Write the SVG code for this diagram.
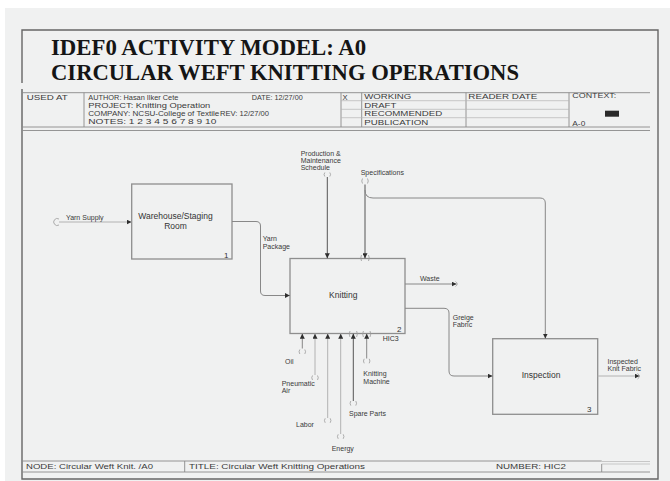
<svg xmlns="http://www.w3.org/2000/svg" width="670" height="481" viewBox="0 0 670 481">
  <defs>
    <style>
      .title { font-family: "Liberation Serif", "Times New Roman", serif; font-weight: bold; font-size: 22.8px; fill: #151515; }
      .hdr { font-family: "Liberation Sans", Arial, sans-serif; font-size: 7.6px; fill: #3a3a3a; }
      .lbl { font-family: "Liberation Sans", Arial, sans-serif; font-size: 7px; fill: #3a3a3a; }
      .box-txt { font-family: "Liberation Sans", Arial, sans-serif; font-size: 8.5px; fill: #333; text-anchor: middle; }
      .num { font-family: "Liberation Sans", Arial, sans-serif; font-size: 8px; fill: #333; }
      .rule { stroke: #8a8a8a; stroke-width: 0.9; fill: none; }
      .rule-lt { stroke: #b4b4b4; stroke-width: 0.7; fill: none; }
      .box { fill: none; stroke: #8e8e8e; stroke-width: 1.3; }
      .arr { fill: none; stroke-width: 1; }
      .dark { stroke: #555; }
      .mid { stroke: #888; }
      .light { stroke: #b2b2b2; }
      .tun { fill: none; stroke: #9a9a9a; stroke-width: 0.8; }
    </style>
    <marker id="head" viewBox="0 0 6 6" refX="6" refY="3" markerWidth="5" markerHeight="5" markerUnits="userSpaceOnUse" orient="auto">
      <path d="M0,0 L6,3 L0,6 Z" fill="#2e2e2e"/>
    </marker>
  </defs>

  <!-- page -->
  <rect x="0" y="0" width="670" height="481" fill="#ffffff"/>
  <rect x="5" y="8" width="665" height="473" fill="#f0f1f1"/>

  <!-- outer frame -->
  <path d="M22,83 V30 H658 V479 H22 V89" fill="none" stroke="#666" stroke-width="1.4"/>

  <!-- heading -->
  <g id="heading">
    <text class="title" x="51" y="55">IDEF0 ACTIVITY MODEL: A0</text>
    <text class="title" x="51" y="80" textLength="468" lengthAdjust="spacingAndGlyphs">CIRCULAR WEFT KNITTING OPERATIONS</text>
  </g>

  <!-- header block -->
  <g id="header">
    <path class="rule" d="M22,92.7 H650 M22,89 V127 M22,127 H650 M22,130.5 H650"/>
    <path class="rule" d="M84,92.7 V127 M341,92.7 V127 M361.7,92.7 V127 M466,92.7 V127 M569,92.7 V127"/>
    <path class="rule-lt" d="M341,100.7 H569 M341,109.3 H569 M341,117.7 H569"/>
    <text class="hdr" x="26.7" y="99.5" textLength="41" lengthAdjust="spacingAndGlyphs">USED AT</text>
    <text class="hdr" x="88.3" y="99.5" textLength="90" lengthAdjust="spacingAndGlyphs">AUTHOR: Hasan Ilker Cete</text>
    <text class="hdr" x="88.3" y="107.7" textLength="122" lengthAdjust="spacingAndGlyphs">PROJECT: Knitting Operation</text>
    <text class="hdr" x="88.3" y="116" textLength="131" lengthAdjust="spacingAndGlyphs">COMPANY: NCSU-College of Textile</text>
    <text class="hdr" x="88.3" y="124.3" textLength="128" lengthAdjust="spacingAndGlyphs">NOTES: 1 2 3 4 5 6 7 8 9 10</text>
    <text class="hdr" x="251.7" y="99.5" textLength="51" lengthAdjust="spacingAndGlyphs">DATE: 12/27/00</text>
    <text class="hdr" x="220" y="116" textLength="49" lengthAdjust="spacingAndGlyphs">REV: 12/27/00</text>
    <text class="hdr" x="342.5" y="99.5">X</text>
    <text class="hdr" x="364.3" y="99.2" textLength="47" lengthAdjust="spacingAndGlyphs">WORKING</text>
    <text class="hdr" x="364.3" y="107.5" textLength="32" lengthAdjust="spacingAndGlyphs">DRAFT</text>
    <text class="hdr" x="364.3" y="116" textLength="78" lengthAdjust="spacingAndGlyphs">RECOMMENDED</text>
    <text class="hdr" x="364.3" y="124.8" textLength="64" lengthAdjust="spacingAndGlyphs">PUBLICATION</text>
    <text class="hdr" x="468.3" y="99.2" textLength="69" lengthAdjust="spacingAndGlyphs">READER DATE</text>
    <text class="hdr" x="572.3" y="97.5" font-size="6" textLength="44" lengthAdjust="spacingAndGlyphs">CONTEXT:</text>
    <rect x="605" y="110.7" width="14" height="6" fill="#2a2a2a"/>
    <text class="hdr" x="572.3" y="125.7" font-size="6" textLength="13" lengthAdjust="spacingAndGlyphs">A-0</text>
  </g>

  <!-- activity boxes -->
  <g id="a1-warehouse">
    <rect class="box" x="131.7" y="184" width="100.3" height="75"/>
    <text class="box-txt" x="175.5" y="219">Warehouse/Staging</text>
    <text class="box-txt" x="175.5" y="228.5">Room</text>
    <text class="num" x="224" y="257.5">1</text>
  </g>
  <g id="a2-knitting">
    <rect class="box" x="290" y="258.5" width="115" height="75"/>
    <text class="box-txt" x="343.3" y="298">Knitting</text>
    <text class="num" x="397" y="332">2</text>
    <text class="num" x="382.7" y="340.7" textLength="16" lengthAdjust="spacingAndGlyphs">HIC3</text>
  </g>
  <g id="a3-inspection">
    <rect class="box" x="492.7" y="338.7" width="105" height="75.6"/>
    <text class="box-txt" x="541" y="378">Inspection</text>
    <text class="num" x="587" y="411.7">3</text>
  </g>

  <!-- arrows -->
  <g id="connectors">
    <path class="arr light" d="M59,222 H131.5" marker-end="url(#head)"/>
    <path class="arr mid" d="M232,221.5 H256 Q260.5,221.5 260.5,226 V291 Q260.5,295.5 265,295.5 H289.8" marker-end="url(#head)"/>
    <path class="arr dark" d="M327.3,177 V258.3" marker-end="url(#head)"/>
    <path class="arr dark" d="M365,184.5 V258.3" marker-end="url(#head)"/>
    <path class="arr mid" d="M365,190 Q365,198 373,198 H540 Q545.3,198 545.3,203 V338.5" marker-end="url(#head)"/>
    <path class="arr mid" d="M405,284 H456.5" marker-end="url(#head)"/>
    <path class="arr mid" d="M405,308.3 H444 Q449,308.3 449,313 V371 Q449,376 454,376 H492.5" marker-end="url(#head)"/>
    <path class="arr light" d="M597.7,376 H639.5" marker-end="url(#head)"/>
    <path class="arr mid" d="M302.3,348.5 V333.7" marker-end="url(#head)"/>
    <path class="arr light" d="M315,375 V333.7" marker-end="url(#head)"/>
    <path class="arr light" d="M327.7,418 V333.7" marker-end="url(#head)"/>
    <path class="arr light" d="M340.7,434 V333.7" marker-end="url(#head)"/>
    <path class="arr dark" d="M353.3,401 V333.7" marker-end="url(#head)"/>
    <path class="arr mid" d="M366.7,358.5 V333.7" marker-end="url(#head)"/>

    <!-- tunnel brackets at arrow ends -->
    <path class="tun" d="M59,219 A3.5,3.5 0 1 0 59,225"/>
    <path class="tun" d="M324.8,172.5 Q323.3,174.5 324.8,176.5 M329.8,172.5 Q331.3,174.5 329.8,176.5"/>
    <path class="tun" d="M362.5,178.5 Q361,181 362.5,183.5 M367.5,178.5 Q369,181 367.5,183.5"/>
    <path class="tun" d="M361.5,255 Q360,258 361.5,261 M368.5,255 Q370,258 368.5,261"/>
    <path class="tun" d="M455.5,281.5 Q459,284 455.5,286.5"/>
    <path class="tun" d="M637.5,373.5 Q641.5,376 637.5,379"/>
    <path class="tun" d="M299.8,349.5 Q298.3,351.7 299.8,354 M304.8,349.5 Q306.3,351.7 304.8,354"/>
    <path class="tun" d="M312.5,375.5 Q311,377.7 312.5,380 M317.5,375.5 Q319,377.7 317.5,380"/>
    <path class="tun" d="M325.2,418.3 Q323.7,420.5 325.2,422.8 M330.2,418.3 Q331.7,420.5 330.2,422.8"/>
    <path class="tun" d="M338.2,434.3 Q336.7,436.5 338.2,438.8 M343.2,434.3 Q344.7,436.5 343.2,438.8"/>
    <path class="tun" d="M350.8,401 Q349.3,403.3 350.8,405.6 M355.8,401 Q357.3,403.3 355.8,405.6"/>
    <path class="tun" d="M364.2,358.8 Q362.7,361 364.2,363.3 M369.2,358.8 Q370.7,361 369.2,363.3"/>
    <path class="tun" d="M350,331 Q348.5,334 350,337 M356.6,331 Q358.1,334 356.6,337"/>
    <path class="tun" d="M363.4,331 Q361.9,334 363.4,337 M370,331 Q371.5,334 370,337"/>
  </g>

  <!-- arrow labels -->
  <g id="labels">
    <text class="lbl" x="66" y="220">Yarn Supply</text>
    <text class="lbl" x="262.7" y="241">Yarn</text>
    <text class="lbl" x="262.7" y="249">Package</text>
    <text class="lbl" x="300.7" y="156">Production &amp;</text>
    <text class="lbl" x="300.7" y="163">Maintenance</text>
    <text class="lbl" x="300.7" y="170">Schedule</text>
    <text class="lbl" x="360.7" y="174.7">Specifications</text>
    <text class="lbl" x="420" y="280.7">Waste</text>
    <text class="lbl" x="452.7" y="319.5">Greige</text>
    <text class="lbl" x="452.7" y="327">Fabric</text>
    <text class="lbl" x="607.5" y="364.3">Inspected</text>
    <text class="lbl" x="607.5" y="371">Knit Fabric</text>
    <text class="lbl" x="285" y="364">Oil</text>
    <text class="lbl" x="281.7" y="386">Pneumatic</text>
    <text class="lbl" x="281.7" y="393.3">Air</text>
    <text class="lbl" x="296" y="427">Labor</text>
    <text class="lbl" x="331.7" y="450.5">Energy</text>
    <text class="lbl" x="349" y="416">Spare Parts</text>
    <text class="lbl" x="363.3" y="375.5">Knitting</text>
    <text class="lbl" x="363.3" y="384">Machine</text>
  </g>

  <!-- footer block -->
  <g id="footer">
    <path class="rule" d="M22,461 H601.7 M22,472 H650 M184.7,461 V472 M601.7,464 V472"/>
    <path class="rule-lt" d="M601.7,461.5 H650 M601.7,464 H650"/>
    <text class="hdr" x="26" y="469" textLength="127" lengthAdjust="spacingAndGlyphs">NODE: Circular Weft Knit. /A0</text>
    <text class="hdr" x="189" y="469" textLength="176" lengthAdjust="spacingAndGlyphs">TITLE: Circular Weft Knitting Operations</text>
    <text class="hdr" x="496" y="469" textLength="70" lengthAdjust="spacingAndGlyphs">NUMBER: HIC2</text>
  </g>
</svg>
